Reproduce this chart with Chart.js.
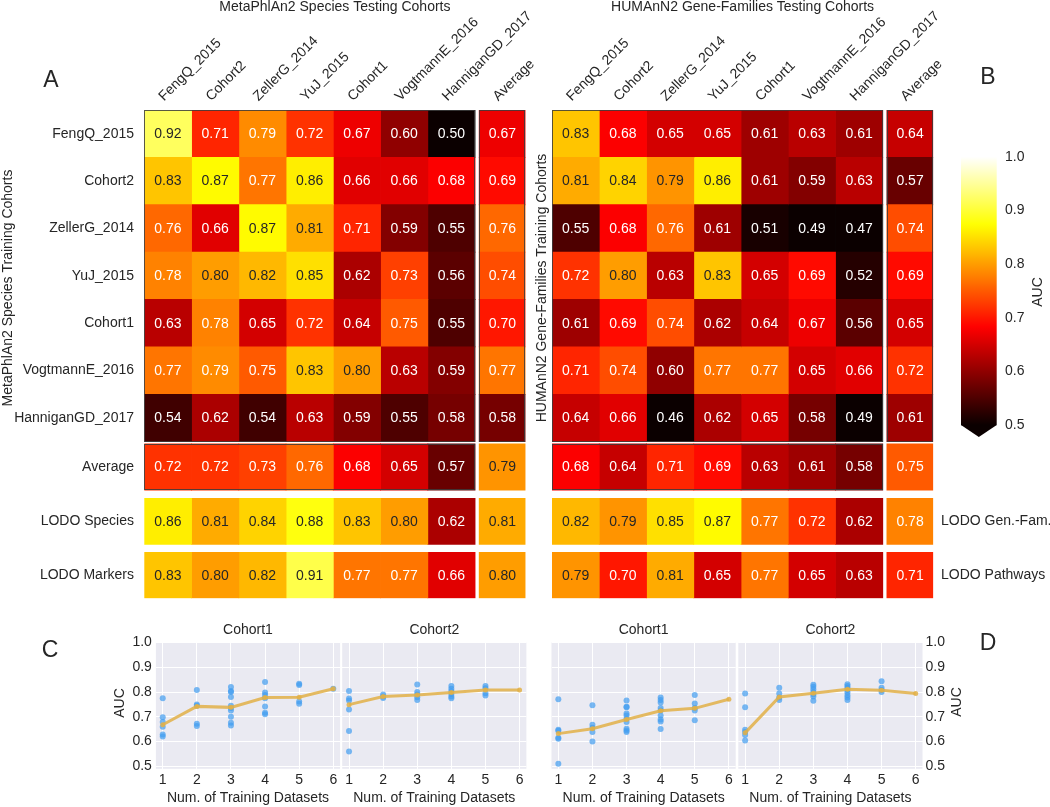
<!DOCTYPE html>
<html><head><meta charset="utf-8">
<script src="https://cdn.jsdelivr.net/npm/chart.js@4.4.1/dist/chart.umd.min.js"></script>
<style>
html,body{margin:0;padding:0;background:#fff;}
#wrap{position:relative;width:1050px;height:807px;overflow:hidden;background:#fff;}
#wrap canvas{position:absolute;left:0;top:0;}
</style></head><body>
<div id="wrap">
<canvas id="hA" width="1050" height="807"></canvas>
<canvas id="hB" width="1050" height="807"></canvas>
<canvas id="cbar" width="1050" height="807"></canvas>
<canvas id="c1" width="1050" height="807"></canvas>
<canvas id="c2" width="1050" height="807"></canvas>
<canvas id="d1" width="1050" height="807"></canvas>
<canvas id="d2" width="1050" height="807"></canvas>
</div>
<script>
// ---------------- DATA ----------------
const cohorts = ['FengQ_2015','Cohort2','ZellerG_2014','YuJ_2015','Cohort1','VogtmannE_2016','HanniganGD_2017'];
const testColumns = ['FengQ_2015','Cohort2','ZellerG_2014','YuJ_2015','Cohort1','VogtmannE_2016','HanniganGD_2017','Average'];
const speciesRowLabels = ['FengQ_2015','Cohort2','ZellerG_2014','YuJ_2015','Cohort1','VogtmannE_2016','HanniganGD_2017','Average','LODO Species','LODO Markers'];
const geneRightLabels = ['LODO Gen.-Fam.','LODO Pathways'];

// MetaPhlAn2 species: rows = training cohort, cols = testing cohort + Average
const speciesAUC = [
  [0.92,0.71,0.786,0.72,0.67,0.60,0.50,0.67],
  [0.83,0.87,0.77,0.86,0.66,0.66,0.68,0.69],
  [0.76,0.66,0.87,0.81,0.71,0.59,0.55,0.76],
  [0.78,0.80,0.82,0.85,0.62,0.73,0.56,0.74],
  [0.63,0.78,0.65,0.72,0.64,0.75,0.55,0.70],
  [0.77,0.786,0.75,0.83,0.80,0.63,0.59,0.77],
  [0.54,0.62,0.54,0.63,0.59,0.55,0.58,0.58]
];
const speciesAverage = [0.72,0.72,0.73,0.76,0.68,0.65,0.57,0.793];
const lodoSpecies    = [0.86,0.81,0.84,0.88,0.83,0.80,0.62,0.81];
const lodoMarkers    = [0.83,0.80,0.82,0.91,0.77,0.77,0.66,0.80];

// HUMAnN2 gene families
const geneAUC = [
  [0.83,0.68,0.65,0.65,0.61,0.63,0.61,0.64],
  [0.81,0.84,0.793,0.86,0.61,0.59,0.63,0.57],
  [0.55,0.68,0.76,0.61,0.51,0.49,0.47,0.74],
  [0.72,0.80,0.63,0.83,0.65,0.69,0.52,0.69],
  [0.61,0.69,0.74,0.62,0.64,0.67,0.56,0.65],
  [0.71,0.74,0.60,0.77,0.77,0.65,0.66,0.72],
  [0.64,0.66,0.46,0.62,0.65,0.58,0.49,0.61]
];
const geneAverage      = [0.68,0.64,0.71,0.69,0.63,0.61,0.58,0.75];
const lodoGeneFamilies = [0.82,0.793,0.85,0.87,0.77,0.72,0.62,0.78];
const lodoPathways     = [0.793,0.70,0.81,0.65,0.77,0.65,0.63,0.71];

const colorbarTicks = [0.5,0.6,0.7,0.8,0.9,1.0];

// Panels C/D: AUC by number of training datasets
const trainingSizes = [1,2,3,4,5,6];
const aucTicks = [0.5,0.6,0.7,0.8,0.9,1.0];
const speciesCohort1Points = [
  [0.775,0.698,0.679,0.660,0.628,0.620],
  [0.808,0.750,0.745,0.672,0.663],
  [0.820,0.804,0.800,0.780,0.745,0.735,0.725,0.700,0.676,0.665],
  [0.840,0.798,0.788,0.775,0.742,0.716,0.710],
  [0.833,0.828,0.762,0.753],
  [0.813]
];
const speciesCohort1Mean = [0.668,0.742,0.738,0.778,0.779,0.813];
const speciesCohort2Points = [
  [0.804,0.774,0.766,0.729,0.643,0.560],
  [0.790,0.782,0.776],
  [0.830,0.800,0.790,0.779,0.768],
  [0.824,0.813,0.803,0.792,0.782,0.775],
  [0.824,0.815,0.795,0.786],
  []
];
const speciesCohort2Mean = [0.749,0.782,0.788,0.798,0.808,0.808];
const geneCohort1Points = [
  [0.771,0.648,0.644,0.615,0.611,0.510],
  [0.747,0.668,0.656,0.639,0.600],
  [0.766,0.741,0.738,0.713,0.705,0.692,0.679,0.652,0.645,0.639],
  [0.778,0.768,0.758,0.735,0.725,0.705,0.689,0.681,0.651],
  [0.788,0.754,0.735,0.725,0.686],
  []
];
const geneCohort1Mean = [0.632,0.652,0.689,0.724,0.734,0.771];
const geneCohort2Points = [
  [0.794,0.738,0.648,0.639,0.626,0.604],
  [0.817,0.794,0.778,0.768],
  [0.829,0.821,0.811,0.800,0.791,0.782,0.765],
  [0.831,0.824,0.817,0.808,0.798,0.787,0.778,0.768],
  [0.844,0.817,0.808,0.800],
  []
];
const geneCohort2Mean = [0.635,0.780,0.795,0.811,0.807,0.794];

// ---------------- STYLE / LAYOUT ----------------
const FONT = "'Liberation Sans', Arial, Helvetica, sans-serif";
const INK = '#262626';
Chart.defaults.font.family = FONT;
Chart.defaults.font.size = 14;
Chart.defaults.color = INK;

const HM_TOP = 110, HM_BOTTOM = 598.3, COL_W = 47.25, AVG_W = 46.3;
const rowBounds = [[0,1],[1,2],[2,3],[3,4],[4,5],[5,6],[6,7],[7.049,8.020],[8.195,9.166],[9.335,10.306]];
const colCenters = [0.5,1.5,2.5,3.5,4.5,5.5,6.5,7.578];
const X_MAX = 8.068, Y_MAX = 10.306;

function hot(v){
  let t = (v-0.5)/0.5; t = Math.max(0, Math.min(1, t));
  const r = t < 0.365079 ? 0.0416 + (1-0.0416)*t/0.365079 : 1;
  const g = t < 0.365079 ? 0 : (t < 0.746032 ? (t-0.365079)/(0.746032-0.365079) : 1);
  const b = t < 0.746032 ? 0 : (t-0.746032)/(1-0.746032);
  return [r,g,b];
}
function css(c){ return 'rgb(' + c.map(x=>Math.round(x*255)).join(',') + ')'; }
function textColor(v){
  const lin = hot(v).map(c => c <= 0.03928 ? c/12.92 : Math.pow((c+0.055)/1.055, 2.4));
  const lum = 0.2126*lin[0] + 0.7152*lin[1] + 0.0722*lin[2];
  return lum > 0.408 ? INK : '#ffffff';
}

function rotText(c, txt, x, y, ang, align, base){
  c.save(); c.translate(x, y); c.rotate(ang);
  c.textAlign = align; c.textBaseline = base; c.fillText(txt, 0, 0); c.restore();
}

function heatmap(id, rows, left, deco){
  const right = left + X_MAX*COL_W;
  return new Chart(document.getElementById(id), {
    type: 'bar',
    data: {
      datasets: testColumns.map((col, j) => ({
        label: col,
        data: rows.map((row, i) => ({x: colCenters[j], y: rowBounds[i].slice(), v: row[j]})),
        backgroundColor: rows.map(row => css(hot(row[j]))),
        barThickness: j < 7 ? COL_W : AVG_W,
        grouped: false,
        borderWidth: 0,
        inflateAmount: 0.4
      }))
    },
    options: {
      responsive: false, animation: false, devicePixelRatio: 1,
      layout: {padding: {left: left, right: 1050-right, top: HM_TOP, bottom: 807-HM_BOTTOM}},
      plugins: {legend: {display: false}, tooltip: {enabled: false}},
      scales: {
        x: {type: 'linear', display: false, min: 0, max: X_MAX, offset: false},
        y: {type: 'linear', display: false, min: 0, max: Y_MAX, reverse: true, offset: false}
      }
    },
    plugins: [{
      id: 'heatText',
      afterDatasetsDraw(chart){
        const c = chart.ctx, xs = chart.scales.x, ys = chart.scales.y;
        c.save();
        // block outlines
        c.strokeStyle = 'rgba(60,60,60,0.85)'; c.lineWidth = 1;
        const x0 = xs.getPixelForValue(0), x7 = xs.getPixelForValue(7);
        const ax = xs.getPixelForValue(colCenters[7]);
        const rect = (a,b,cc,d) => c.strokeRect(Math.round(a)+0.5, Math.round(b)+0.5, Math.round(cc-a)-1, Math.round(d-b)-1);
        rect(x0, ys.getPixelForValue(0), x7, ys.getPixelForValue(7));
        rect(ax-AVG_W/2, ys.getPixelForValue(0), ax+AVG_W/2, ys.getPixelForValue(7));
        rect(x0, ys.getPixelForValue(rowBounds[7][0]), x7, ys.getPixelForValue(rowBounds[7][1]));
        // values
        c.font = '14px ' + FONT; c.textAlign = 'center'; c.textBaseline = 'middle';
        chart.data.datasets.forEach((ds, j) => {
          chart.getDatasetMeta(j).data.forEach((el, i) => {
            const v = ds.data[i].v;
            c.fillStyle = textColor(v);
            c.fillText(v.toFixed(2), el.x, (el.y + el.base)/2 + 0.5);
          });
        });
        // column labels
        c.fillStyle = INK;
        testColumns.forEach((lab, j) => {
          rotText(c, lab, xs.getPixelForValue(colCenters[j]) - 4, 101.5, -Math.PI/4, 'left', 'alphabetic');
        });
        deco(chart, c, xs, ys);
        c.restore();
      }
    }]
  });
}

heatmap('hA', [...speciesAUC, speciesAverage, lodoSpecies, lodoMarkers], 144.3, (chart, c, xs, ys) => {
  c.fillStyle = INK; c.font = '14px ' + FONT;
  speciesRowLabels.forEach((lab, i) => {
    c.textAlign = 'right'; c.textBaseline = 'middle';
    c.fillText(lab, 134, ys.getPixelForValue((rowBounds[i][0]+rowBounds[i][1])/2));
  });
  c.textAlign = 'center';
  c.fillText('MetaPhlAn2 Species Testing Cohorts', (chart.chartArea.left+chart.chartArea.right)/2, 7);
  rotText(c, 'MetaPhlAn2 Species Training Cohorts', 8, 288, -Math.PI/2, 'center', 'middle');
  c.font = '23px ' + FONT;
  c.textAlign = 'center'; c.textBaseline = 'middle';
  c.fillText('A', 51, 81);
});

heatmap('hB', [...geneAUC, geneAverage, lodoGeneFamilies, lodoPathways], 552, (chart, c, xs, ys) => {
  c.fillStyle = INK; c.font = '14px ' + FONT;
  geneRightLabels.forEach((lab, k) => {
    const i = 8 + k;
    c.textAlign = 'left'; c.textBaseline = 'middle';
    c.fillText(lab, 941, ys.getPixelForValue((rowBounds[i][0]+rowBounds[i][1])/2));
  });
  c.textAlign = 'center'; c.textBaseline = 'middle';
  c.fillText('HUMAnN2 Gene-Families Testing Cohorts', (chart.chartArea.left+chart.chartArea.right)/2, 7);
  rotText(c, 'HUMAnN2 Gene-Families Training Cohorts', 542, 288, -Math.PI/2, 'center', 'middle');
  c.font = '23px ' + FONT;
  c.textAlign = 'center'; c.textBaseline = 'middle';
  c.fillText('B', 988, 78);
});

// ---------------- COLORBAR ----------------
const CB_MIN = 0.4776;
new Chart(document.getElementById('cbar'), {
  type: 'bar',
  data: {
    datasets: [
      {
        type: 'bar',
        data: [{x: 0, y: [colorbarTicks[0], colorbarTicks[colorbarTicks.length-1]]}],
        barThickness: 35.7, grouped: false, borderWidth: 0,
        backgroundColor: (ctx) => {
          const ch = ctx.chart; if (!ch.chartArea) return '#000';
          const y = ch.scales.y;
          const g = ch.ctx.createLinearGradient(0, y.getPixelForValue(0.5), 0, y.getPixelForValue(1.0));
          for (let k = 0; k <= 60; k++) g.addColorStop(k/60, css(hot(0.5 + 0.5*k/60)));
          return g;
        }
      },
      {
        type: 'line',
        data: [{x: -0.5, y: 0.5}, {x: 0, y: CB_MIN}, {x: 0.5, y: 0.5}],
        borderWidth: 0, pointRadius: 0, tension: 0,
        backgroundColor: css(hot(0.5)), fill: {value: 0.5}
      }
    ]
  },
  options: {
    responsive: false, animation: false, devicePixelRatio: 1,
    layout: {padding: {left: 961, right: 1050-996.7, top: 156.7, bottom: 807-437}},
    plugins: {legend: {display: false}, tooltip: {enabled: false}},
    scales: {
      x: {type: 'linear', display: false, min: -0.5, max: 0.5, offset: false},
      y: {type: 'linear', display: false, min: CB_MIN, max: 1.0, offset: false}
    }
  },
  plugins: [{
    id: 'cbText',
    afterDraw(chart){
      const c = chart.ctx, y = chart.scales.y;
      c.save(); c.fillStyle = INK; c.font = '14px ' + FONT;
      c.textAlign = 'left'; c.textBaseline = 'middle';
      colorbarTicks.forEach(v => c.fillText(v.toFixed(1), 1005, y.getPixelForValue(v)));
      rotText(c, 'AUC', 1038, 292, -Math.PI/2, 'center', 'middle');
      c.restore();
    }
  }]
});

// ---------------- PANELS C / D ----------------
const BLUE = 'rgba(66,157,240,0.7)';
const GOLD = 'rgba(226,176,72,0.85)';
const P_TOP = 642.5, Y_MIN = 0.49, P_BOTTOM = 642.5 + (1.0 - Y_MIN)*247.6;
const Y_AX_W = 40, X_AX_H = 20;

function panel(id, title, points, mean, left, right, yMode, extra){
  const pts = [];
  trainingSizes.forEach((k, idx) => points[idx].forEach(v => pts.push({x: k, y: v})));
  const yRight = yMode === 'right';
  return new Chart(document.getElementById(id), {
    type: 'scatter',
    data: {
      datasets: [
        {type: 'line', data: trainingSizes.map((k, i) => ({x: k, y: mean[i]})),
         borderColor: GOLD, borderWidth: 3, pointRadius: 2.5, pointBackgroundColor: GOLD,
         pointBorderWidth: 0, fill: false, tension: 0},
        {type: 'scatter', data: pts, pointRadius: 3, backgroundColor: BLUE, borderWidth: 0}
      ]
    },
    options: {
      responsive: false, animation: false, devicePixelRatio: 1,
      layout: {padding: {
        left: yRight ? left : left - Y_AX_W,
        right: yRight ? 1050 - right - Y_AX_W : 1050 - right,
        top: P_TOP, bottom: 807 - P_BOTTOM - X_AX_H}},
      plugins: {legend: {display: false}, tooltip: {enabled: false}},
      scales: {
        x: {type: 'linear', min: 0.8, max: 6.2, offset: false,
            afterBuildTicks: a => { a.ticks = trainingSizes.map(v => ({value: v})); },
            afterFit: s => { s.height = X_AX_H; },
            grid: {color: '#ffffff', lineWidth: 1, drawTicks: false},
            border: {display: false},
            ticks: {padding: 3, color: INK, font: {size: 14}}},
        y: {type: 'linear', position: yRight ? 'right' : 'left', min: Y_MIN, max: 1.0, offset: false,
            afterBuildTicks: a => { a.ticks = aucTicks.map(v => ({value: v})); },
            afterFit: s => { s.width = Y_AX_W; },
            grid: {color: '#ffffff', lineWidth: 1, drawTicks: false},
            border: {display: false},
            ticks: {display: yMode !== 'none', padding: yRight ? 3 : 4, color: INK, font: {size: 14},
                    callback: v => Number(v).toFixed(1)}}
      }
    },
    plugins: [{
      id: 'bg',
      beforeDraw(chart){
        const a = chart.chartArea, c = chart.ctx;
        c.save(); c.fillStyle = '#eaeaf2'; c.fillRect(a.left, a.top, a.right-a.left, a.bottom-a.top); c.restore();
      },
      afterDraw(chart){
        const a = chart.chartArea, c = chart.ctx;
        c.save(); c.fillStyle = INK; c.font = '14px ' + FONT;
        c.textAlign = 'center'; c.textBaseline = 'middle';
        c.fillText(title, (a.left+a.right)/2, 630);
        c.fillText('Num. of Training Datasets', (a.left+a.right)/2, 798);
        if (extra) extra(c);
        c.restore();
      }
    }]
  });
}

panel('c1', 'Cohort1', speciesCohort1Points, speciesCohort1Mean, 155.9, 340.1, 'left', c => {
  rotText(c, 'AUC', 120, 703, -Math.PI/2, 'center', 'middle');
  c.font = '23px ' + FONT; c.fillText('C', 50, 651);
});
panel('c2', 'Cohort2', speciesCohort2Points, speciesCohort2Mean, 342.2, 526.4, 'none');
panel('d1', 'Cohort1', geneCohort1Points, geneCohort1Mean, 551.5, 735.7, 'none');
panel('d2', 'Cohort2', geneCohort2Points, geneCohort2Mean, 738.3, 922.5, 'right', c => {
  rotText(c, 'AUC', 957, 702, -Math.PI/2, 'center', 'middle');
  c.font = '23px ' + FONT; c.fillText('D', 988, 644);
});
</script>
</body></html>
